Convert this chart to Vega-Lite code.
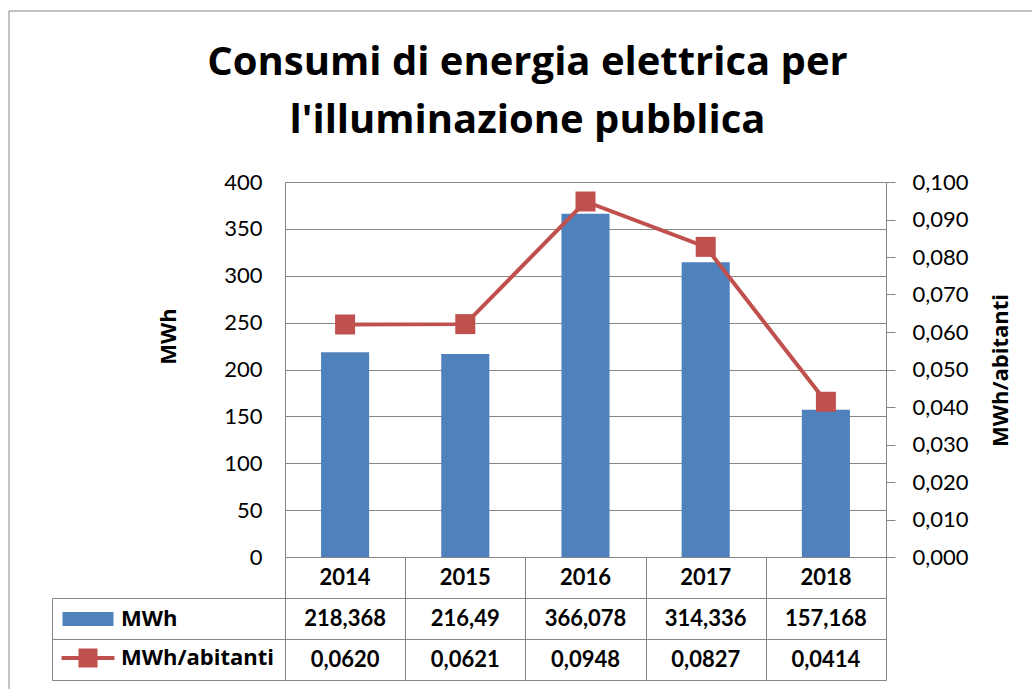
{
  "$schema": "https://vega.github.io/schema/vega-lite/v6.json",
  "padding": {"left": 9, "top": 11, "right": -30, "bottom": -30},
  "autosize": {"type": "pad"},
  "background": "white",
  "config": {
    "view": {"stroke": null},
    "font": "Lato",
    "locale": {"number": {"decimal": ",", "thousands": ".", "grouping": [3], "currency": ["", " €"]}},
    "axis": {"labelFont": "Lato", "titleFont": "Open Sans", "labelColor": "#000", "titleColor": "#000", "domainColor": "#868686", "gridColor": "#868686", "tickColor": "#868686", "domainWidth": 1, "gridWidth": 1, "tickWidth": 1}
  },
  "datasets": {
    "consumi": [
      {"anno": "2014", "MWh": 218.368, "MWh_abitanti": 0.0620},
      {"anno": "2015", "MWh": 216.49, "MWh_abitanti": 0.0621},
      {"anno": "2016", "MWh": 366.078, "MWh_abitanti": 0.0948},
      {"anno": "2017", "MWh": 314.336, "MWh_abitanti": 0.0827},
      {"anno": "2018", "MWh": 157.168, "MWh_abitanti": 0.0414}
    ]
  },
  "spacing": 0,
  "bounds": "flush",
  "vconcat": [
    {
      "width": 601,
      "height": 375,
      "data": {"name": "consumi"},
      "title": {
        "text": ["Consumi di energia elettrica per", "l'illuminazione pubblica"],
        "frame": "group",
        "anchor": "middle",
        "dx": -58,
        "offset": 30,
        "font": "Open Sans",
        "fontSize": 40,
        "fontWeight": "bold",
        "color": "#000",
        "lineHeight": 58
      },
      "encoding": {
        "x": {"field": "anno", "type": "nominal", "sort": null,
              "scale": {"paddingInner": 0.6, "paddingOuter": 0.3},
              "axis": {"labels": false, "ticks": false, "domain": true, "title": null, "grid": false}}
      },
      "layer": [
        {
          "mark": {"type": "bar", "strokeWidth": 0},
          "encoding": {
            "y": {"field": "MWh", "type": "quantitative", "scale": {"domain": [0, 400]},
                  "axis": {"values": [0, 50, 100, 150, 200, 250, 300, 350, 400], "ticks": false, "labelPadding": 23, "labelFontSize": 22,
                           "title": "MWh", "titleFontSize": 22, "titleFontWeight": "bold", "titleAngle": 270, "titleX": -117, "titleY": 154,
                           "titleAlign": "center", "titleBaseline": "middle", "grid": true, "domain": true}},
            "color": {"datum": "MWh", "type": "nominal",
                      "scale": {"domain": ["MWh", "MWh/abitanti"], "range": ["#4F81BD", "#C0504D"]},
                      "legend": {"title": null, "orient": "none", "legendX": -208, "legendY": 426, "direction": "vertical", "padding": 0,
                                 "labelFont": "Open Sans", "labelFontSize": 22, "labelFontWeight": "bold", "labelColor": "#000", "labelOffset": 22,
                                 "symbolSize": 400, "rowPadding": 17, "labelLimit": 300,
                                 "encode": {"symbols": {"update": {
                                   "shape": {"signal": "datum.value === 'MWh' ? 'M-2.55,-0.7H2.55V0.7H-2.55Z' : 'M-2.65,-0.2H-0.95V-0.95H0.95V-0.2H2.65V0.2H0.95V0.95H-0.95V0.2H-2.65Z'"},
                                   "fill": {"signal": "datum.value === 'MWh' ? '#4F81BD' : '#C0504D'"},
                                   "fillOpacity": {"value": 1},
                                   "opacity": {"value": 1},
                                   "stroke": {"value": "transparent"},
                                   "strokeWidth": {"value": 0}
                                 }}}}},
            "stroke": {"field": "MWh", "type": "quantitative",
                       "scale": {"range": ["rgba(255,255,255,0)", "rgba(255,255,255,0)"]},
                       "legend": {"title": null, "orient": "none", "legendX": -276, "legendY": -171, "direction": "horizontal", "padding": 0,
                                  "gradientLength": 1052, "gradientThickness": 707, "gradientStrokeColor": "#868686", "gradientStrokeWidth": 1,
                                  "labelExpr": "''", "labelOpacity": 0, "labelOffset": -60, "labelFontSize": 1}}
          }
        },
        {
          "encoding": {
            "y": {"field": "MWh_abitanti", "type": "quantitative", "scale": {"domain": [0, 0.1]},
                  "axis": {"orient": "right", "values": [0, 0.01, 0.02, 0.03, 0.04, 0.05, 0.06, 0.07, 0.08, 0.09, 0.1], "format": ".3f",
                           "tickSize": 9, "labelPadding": 17, "labelFontSize": 22, "labelAlign": "left", "grid": false,
                           "title": "MWh/abitanti", "titleFontSize": 22, "titleFontWeight": "bold", "titleAngle": 270, "titleX": 114, "titleY": 188,
                           "titleAlign": "center", "titleBaseline": "middle"}},
            "color": {"datum": "MWh/abitanti", "type": "nominal"}
          },
          "layer": [
            {"mark": {"type": "line", "strokeWidth": 4}},
            {"mark": {"type": "point", "shape": "square", "filled": true, "size": 400, "opacity": 1}}
          ]
        }
      ],
      "resolve": {"scale": {"y": "independent"}}
    },
    {
      "width": 601,
      "height": 41,
      "data": {"name": "consumi"},
      "mark": {"type": "text", "font": "Lato", "fontSize": 22, "fontWeight": "bold", "baseline": "middle", "color": "#000"},
      "encoding": {
        "x": {"field": "anno", "type": "nominal", "sort": null,
              "scale": {"paddingInner": 0, "paddingOuter": 0},
              "axis": {"grid": true, "tickBand": "extent", "labels": false, "ticks": false, "domain": false, "title": null}},
        "text": {"field": "anno", "type": "nominal"}
      }
    },
    {
      "width": 601,
      "height": 82,
      "data": {"name": "consumi"},
      "encoding": {
        "x": {"field": "anno", "type": "nominal", "sort": null,
              "scale": {"paddingInner": 0, "paddingOuter": 0},
              "axis": {"grid": true, "tickBand": "extent", "labels": false, "ticks": false, "domain": false, "title": null}}
      },
      "layer": [
        {
          "mark": {"type": "text", "font": "Lato", "fontSize": 22, "fontWeight": "bold", "baseline": "middle", "color": "#000"},
          "encoding": {
            "y": {"datum": "MWh", "type": "nominal",
                  "scale": {"domain": ["MWh", "MWh/abitanti"], "paddingInner": 0, "paddingOuter": 0},
                  "axis": {"orient": "left", "offset": 233, "tickBand": "extent", "tickSize": -834, "labels": false, "title": null, "domain": true}},
            "text": {"field": "MWh", "type": "quantitative", "format": ".3~f"}
          }
        },
        {
          "mark": {"type": "text", "font": "Lato", "fontSize": 22, "fontWeight": "bold", "baseline": "middle", "color": "#000"},
          "encoding": {
            "y": {"datum": "MWh/abitanti", "type": "nominal"},
            "text": {"field": "MWh_abitanti", "type": "quantitative", "format": ".4f"}
          }
        }
      ]
    }
  ]
}
